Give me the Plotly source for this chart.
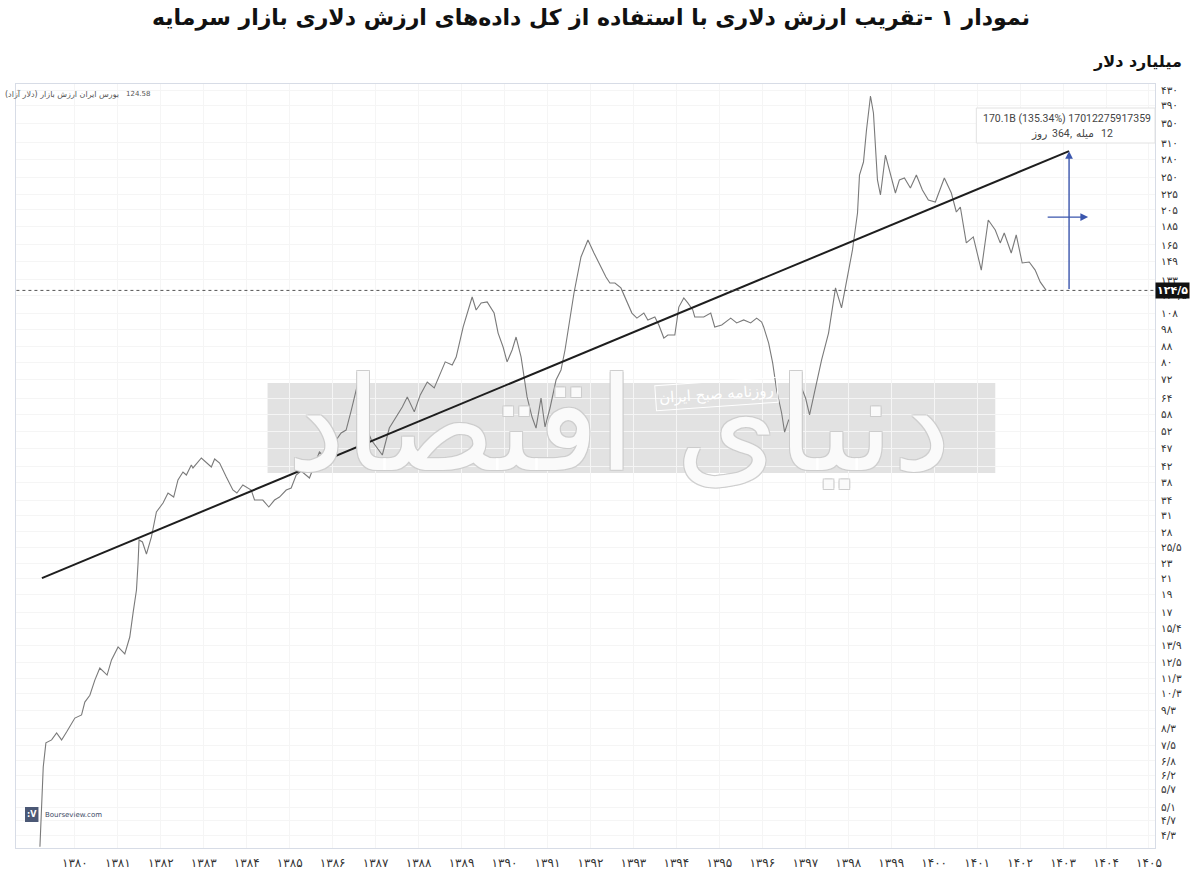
import numpy as np
import plotly.graph_objects as go

# ---------------- data ----------------
years = [1379.187, 1379.226, 1379.264, 1379.326, 1379.459, 1379.575, 1379.691, 1379.807, 1380.000, 1380.156,
         1380.232, 1380.349, 1380.465, 1380.581, 1380.750, 1380.853, 1381.006, 1381.162, 1381.278, 1381.355,
         1381.434, 1381.471, 1381.494, 1381.573, 1381.666, 1381.782, 1381.898, 1382.052, 1382.168, 1382.300,
         1382.400, 1382.516, 1382.595, 1382.711, 1382.749, 1382.944, 1383.060, 1383.176, 1383.253, 1383.369,
         1383.525, 1383.678, 1383.771, 1383.910, 1384.105, 1384.182, 1384.375, 1384.514, 1384.647, 1384.763,
         1384.919, 1385.035, 1385.151, 1385.267, 1385.460, 1385.576, 1385.692, 1385.769, 1385.885, 1385.964,
         1386.080, 1386.197, 1386.313, 1386.436, 1386.575, 1386.691, 1386.808, 1386.901, 1387.156, 1387.319,
         1387.621, 1387.737, 1387.900, 1388.039, 1388.202, 1388.364, 1388.504, 1388.620, 1388.783, 1388.875,
         1389.038, 1389.131, 1389.247, 1389.340, 1389.456, 1389.596, 1389.758, 1389.851, 1389.967, 1390.060,
         1390.177, 1390.269, 1390.386, 1390.525, 1390.641, 1390.734, 1390.850, 1390.943, 1391.059, 1391.199,
         1391.315, 1391.408, 1391.524, 1391.617, 1391.780, 1391.942, 1392.082, 1392.244, 1392.361, 1392.453,
         1392.570, 1392.709, 1392.825, 1392.965, 1393.081, 1393.243, 1393.336, 1393.499, 1393.592, 1393.708,
         1393.801, 1393.964, 1394.057, 1394.173, 1394.266, 1394.382, 1394.428, 1394.637, 1394.800, 1394.893,
         1395.056, 1395.265, 1395.404, 1395.567, 1395.729, 1395.869, 1395.985, 1396.031, 1396.148, 1396.241,
         1396.334, 1396.450, 1396.519, 1396.612, 1396.705, 1396.821, 1396.914, 1397.007, 1397.100, 1397.216,
         1397.379, 1397.542, 1397.704, 1397.844, 1397.960, 1398.099, 1398.216, 1398.262, 1398.355, 1398.425,
         1398.518, 1398.587, 1398.680, 1398.750, 1398.866, 1398.982, 1399.098, 1399.191, 1399.308, 1399.447,
         1399.586, 1399.726, 1399.865, 1400.028, 1400.237, 1400.400, 1400.516, 1400.609, 1400.748, 1400.911,
         1401.097, 1401.259, 1401.422, 1401.538, 1401.631, 1401.794, 1401.910, 1402.049, 1402.212, 1402.351,
         1402.468, 1402.607]

values = [4.0, 5.44, 6.55, 7.60, 7.74, 8.08, 7.74, 8.13, 8.86, 9.03,
          9.78, 10.2, 11.2, 12.07, 11.56, 12.69, 13.75, 13.17, 14.62, 16.97,
          19.55, 23.11, 26.64, 26.31, 24.42, 27.14, 31.67, 33.48, 35.6, 34.74,
          38.6, 40.55, 39.8, 42.36, 41.58, 44.22, 43.13, 41.82, 43.95, 42.86,
          39.31, 36.28, 35.6, 37.42, 36.28, 34.1, 34.1, 32.66, 34.1, 34.74,
          36.28, 36.73, 39.8, 40.8, 39.07, 42.36, 45.89, 45.04, 46.45, 48.5,
          49.4, 51.6, 52.56, 59.5, 69.4, 63.3, 52.56, 49.4, 45.04, 53.2,
          60.6, 64.5, 58.8, 65.3, 70.7, 68.2, 74.8, 80.1, 78.6, 82.5,
          99.4, 108.3, 119.6, 110.4, 115.3, 116.0, 108.3, 95.7, 87.8, 80.1,
          86.2, 93.4, 82.5, 64.5, 56.96, 53.2, 64.07, 53.56, 60.23, 71.6,
          76.2, 86.2, 103.8, 122.6, 153.2, 170.2, 157.0, 144.0, 135.4, 130.4,
          130.4, 126.5, 117.4, 108.3, 105.0, 108.3, 103.8, 105.7, 100.6, 92.8,
          94.6, 94.6, 112.4, 118.9, 115.3, 110.4, 105.7, 105.7, 108.3, 99.4,
          100.6, 105.0, 101.9, 103.8, 101.9, 105.0, 102.5, 99.4, 90.0, 79.6,
          67.3, 58.4, 51.9, 55.9, 54.9, 60.23, 68.2, 64.07, 57.7, 66.5,
          81.0, 95.7, 126.5, 111.8, 132.9, 160.0, 201.1, 254.3, 275.5, 335.8,
          414.4, 373.0, 246.6, 224.7, 287.7, 257.5, 227.5, 246.6, 249.7, 234.6,
          254.3, 231.7, 217.8, 215.2, 249.7, 227.5, 202.3, 208.6, 167.1, 173.4,
          141.3, 192.5, 181.0, 167.1, 177.7, 157.0, 175.5, 147.6, 148.5, 141.3,
          131.3, 124.58]
assert len(years) == len(values)

last_value = 124.58
gain_value = 170.1
gain_pct = 135.34
target_value = last_value + gain_value
trend_years = [1379.233, 1403.14]
trend_values = [21.05, target_value]
measure_year = 1403.14
hline_years = [1402.607, 1403.583]
hline_value = 196.0

x_ticks = list(range(1380, 1406))
y_ticks = [430, 390, 350, 310, 280, 250, 225, 205, 185, 165, 149, 133, 120.5, 108, 98, 88, 80, 72, 64,
           58, 52, 47, 42, 38, 34, 31, 28, 25.5, 23, 21, 19, 17, 15.4, 13.9, 12.5, 11.3, 10.3, 9.3,
           8.3, 7.5, 6.8, 6.2, 5.7, 5.1, 4.7, 4.3]

title_text = "نمودار ۱ -تقریب ارزش دلاری با استفاده از کل داده‌های ارزش دلاری بازار سرمایه"
unit_text = "میلیارد دلار"
legend_text = "بورس ایران ارزش بازار (دلار آزاد)"
# second line of the measurement label, as visual tokens (left to right)
measure_tokens = ["روز", "364", ",", "میله", "12"]

FA = str.maketrans("0123456789.", "۰۱۲۳۴۵۶۷۸۹/")


def fa(v):
    return ("%g" % v).translate(FA)


# ---------------- geometry helpers ----------------
W, H = 1200, 887
ML, MR, MT, MB = 16, 43, 84, 39
PW, PH = W - ML - MR, H - MT - MB


def px(x):
    return (x - ML) / PW


def py(y):
    return (H - MB - y) / PH


FONT = "DejaVu Sans"
LINE_GRAY = "#7a7a7a"
BLUE = "#3b56ad"

fig = go.Figure()

fig.add_trace(go.Scatter(x=years, y=values, mode="lines",
                         line=dict(color=LINE_GRAY, width=1.1), hoverinfo="skip"))
fig.add_trace(go.Scatter(x=trend_years, y=trend_values, mode="lines",
                         line=dict(color="#1e1e1e", width=2), hoverinfo="skip"))
fig.add_trace(go.Scatter(x=[1378.5, 1405.3], y=[last_value, last_value], mode="lines",
                         line=dict(color="#555555", width=1, dash="dot"), hoverinfo="skip"))

# watermark band
fig.add_shape(type="rect", xref="paper", yref="paper",
              x0=px(268), x1=px(997), y0=py(473), y1=py(383),
              fillcolor="#e2e2e2", line=dict(width=0), layer="below")
# measurement label box
fig.add_shape(type="rect", xref="paper", yref="paper",
              x0=px(978), x1=px(1157), y0=py(143), y1=py(108),
              fillcolor="white", line=dict(color="#e2e2e2", width=1), layer="above")

annotations = []


def note(x, y, text, size, color="#333", xanchor="center", yanchor="middle", family=FONT, **kw):
    d = dict(xref="paper", yref="paper", x=px(x), y=py(y), text=text, showarrow=False,
             xanchor=xanchor, yanchor=yanchor, font=dict(family=family, size=size, color=color))
    d.update(kw)
    annotations.append(d)


# big watermark text
annotations.append(dict(xref="paper", yref="paper", x=px(620), y=py(425), text="دنیای اقتصاد",
                        showarrow=False, xanchor="center", yanchor="middle",
                        font=dict(family=FONT, size=130, color="rgba(255,255,255,0.9)",
                                  shadow="1px 1px 0 #cccccc, -1px -1px 0 #cccccc, 1px -1px 0 #cccccc, -1px 1px 0 #cccccc")))
note(718, 394, "روزنامه صبح ایران", 15, color="white", textangle=-4,
     bordercolor="white", borderwidth=1, borderpad=3)

# measurement arrows
annotations.append(dict(x=measure_year, y=np.log10(target_value), ax=measure_year, ay=np.log10(last_value),
                        xref="x", yref="y", axref="x", ayref="y", text="", showarrow=True,
                        arrowhead=2, arrowsize=1.1, arrowwidth=1.4, arrowcolor=BLUE))
annotations.append(dict(x=hline_years[1], y=np.log10(hline_value), ax=hline_years[0], ay=np.log10(hline_value),
                        xref="x", yref="y", axref="x", ayref="y", text="", showarrow=True,
                        arrowhead=2, arrowsize=1.1, arrowwidth=1.4, arrowcolor=BLUE))
# measurement label text
note(1069, 118, "%.1fB (%.2f%%) 17012275917359" % (gain_value, gain_pct), 10.5,
     color="#444", family="Roboto, DejaVu Sans")
for tok, lx in zip(measure_tokens, [1031, 1052, 1070, 1076, 1101]):
    note(lx, 133, tok, 10.5, color="#444", family="Roboto, DejaVu Sans", xanchor="left")

# last value label
annotations.append(dict(xref="paper", yref="y", x=px(1157), y=np.log10(last_value),
                        text="<b>" + fa(124.5) + "</b>", showarrow=False, xanchor="left", yanchor="middle",
                        bgcolor="#111111", borderpad=1, font=dict(family=FONT, size=11, color="white")))

# title and unit
note(592, 18, "<b>" + title_text + "</b>", 22, color="#111")
note(1186, 62, "<b>" + unit_text + "</b>", 16, color="#111", xanchor="right")

# legend texts in the top-left corner
note(121, 94, legend_text, 8, color="#555", xanchor="right")
note(124, 94, "%.2f" % last_value, 7, color="#555", xanchor="left")

# bourseview logo
fig.add_shape(type="rect", xref="paper", yref="paper", x0=px(25), x1=px(38.5), y0=py(822), y1=py(807),
              fillcolor="#4b5875", line=dict(width=0), layer="above")
note(31.7, 814.5, "<b>:V</b>", 8, color="white")
note(43, 814.5, "Bourseview.com", 7, color="#3d4a66", xanchor="left")

fig.update_layout(
    width=W, height=H,
    margin=dict(l=ML, r=MR, t=MT, b=MB),
    paper_bgcolor="white", plot_bgcolor="white",
    showlegend=False,
    annotations=annotations,
    xaxis=dict(range=[1378.63, 1405.14], tickmode="array", tickvals=x_ticks,
               ticktext=[fa(v) for v in x_ticks], showgrid=True, gridcolor="#f5f5f5",
               zeroline=False, showline=True, linecolor="#d7dce6", mirror=True, ticks="",
               ticklabelstandoff=4,
               tickfont=dict(family=FONT, size=12, color="#333")),
    yaxis=dict(type="log", side="right", range=[0.5986, 2.6496], tickmode="array",
               tickvals=y_ticks, ticktext=[fa(v) for v in y_ticks], showgrid=True, gridcolor="#f5f5f5",
               zeroline=False, showline=True, linecolor="#d7dce6", mirror=True, ticks="",
               ticklabelstandoff=3,
               tickfont=dict(family=FONT, size=10.5, color="#333")),
)

fig.write_html("out.html", config={"displayModeBar": False},
               post_script="document.body.style.margin='0px';")
